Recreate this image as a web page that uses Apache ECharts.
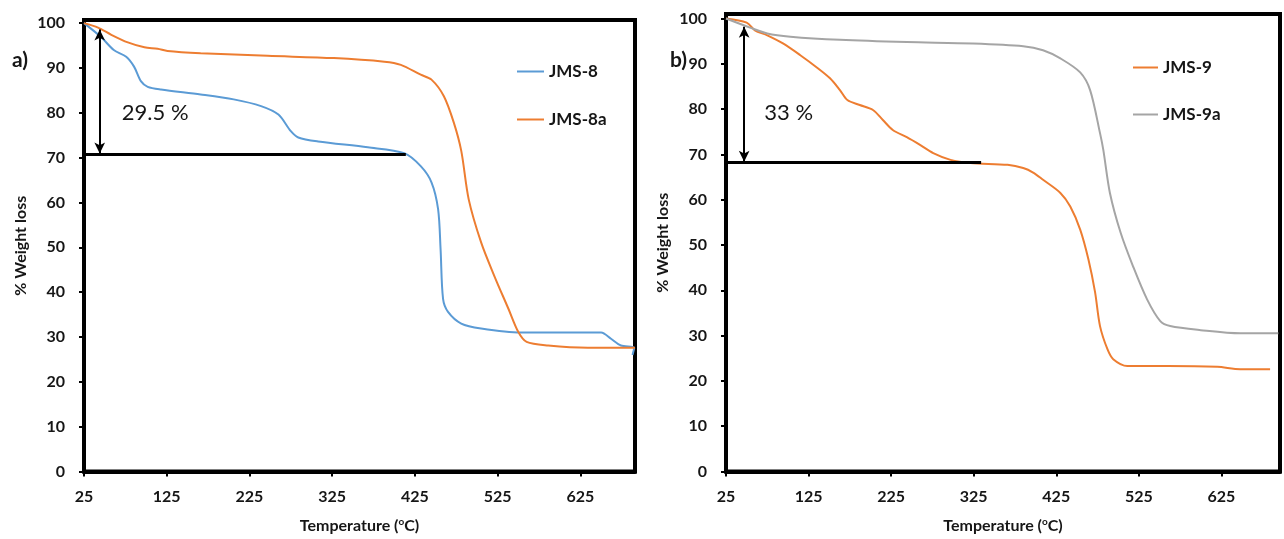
<!DOCTYPE html>
<html><head><meta charset="utf-8">
<script src="https://cdn.jsdelivr.net/npm/echarts@6/dist/echarts.min.js"></script>
<style>html,body{margin:0;padding:0;background:#fff}#c{width:1284px;height:539px}</style>
</head><body><div id="c"></div>
<script>
const xTicks = [25,125,225,325,425,525,625];
const yTicks = [0,10,20,30,40,50,60,70,80,90,100];

const jms8 = [[25,100],[45.6,96.9],[61,94],[76,92.5],[85.5,90.3],[94,87],[102,85.8],[118,85.2],[166,84.1],[206,83],[239,81.5],[260,79.6],[275,75.9],[284,74.5],[308,73.6],[368,72.3],[412,71],[432,68.1],[445,64.5],[453,58.5],[456,49.6],[459,38.5],[465,35.6],[481,33],[505,31.9],[553,31],[626,31],[650,31],[662,29.6],[674,28.1],[690,27.6],[688,26]];
const jms8a = [[25,100],[42,99],[58,97.4],[78,95.7],[98,94.6],[114,94.3],[126,93.8],[166,93.3],[247,92.7],[327,92.2],[388,91.4],[408,90.7],[432,88.5],[445,87.4],[460,83.7],[472,77.8],[481,71.5],[490,60.7],[505,51.1],[521,43.6],[538,36.3],[550,31.1],[560,28.9],[586,28.1],[634,27.6],[691,27.6]];
const jms9 = [[25,100],[50,99.1],[60,97.4],[75,96.3],[94,94.5],[115,91.9],[135,89.2],[151,86.8],[163,84.2],[172,82],[187,80.9],[203,79.8],[215,77.6],[227,75.4],[244,73.8],[260,72.1],[276,70.3],[297,68.8],[321,68.1],[366,67.7],[385,67],[397,66],[409,64.4],[430,61.5],[442,58.5],[454,53.4],[464,46.8],[472,39.6],[478,32.1],[487,27],[494,24.8],[511,23.3],[560,23.3],[620,23.1],[648,22.6],[684,22.6]];
const jms9a = [[25,100],[54,98],[75,96.7],[103,96],[163,95.3],[244,94.8],[324,94.5],[385,93.9],[409,93],[430,91.2],[454,88.1],[466,84.2],[478,74.7],[482,71],[490,61.5],[503,52.7],[518,45.3],[535,38],[551,33.2],[563,32.1],[600,31.2],[648,30.5],[694,30.5]];

// annotation values
const lossA = {label:'29.5 %', x:44, top:98.6, bottom:70.9, level:70.7, lineEnd:414, textAt:[111,80]};
const lossB = {label:'33 %', x:47, top:98.2, bottom:68.4, level:68.2, lineEnd:334, textAt:[101,79.2]};

const FONT = 'Lato';
const INK = '#161616';
const tickLabel = {color:INK, fontFamily:FONT, fontWeight:'bold', fontSize:16};

function xAxis(gi, max){
  return {type:'value', gridIndex:gi, min:25, max:max,
    name:'{t|Temperature (}{s|o}{t|C)}', nameLocation:'middle', nameGap:45,
    nameTextStyle:{color:INK, fontFamily:FONT, fontWeight:'bold', fontSize:16,
      rich:{t:{fontSize:16, fontFamily:FONT, fontWeight:'bold', color:INK},
            s:{fontSize:10, fontFamily:FONT, fontWeight:'bold', color:INK, padding:[0,0,9,0]}}},
    axisLine:{show:true, onZero:false, lineStyle:{color:'#000', width:4}},
    axisTick:{show:true, inside:false, length:5, lineStyle:{color:'#000', width:2}, customValues:xTicks},
    axisLabel:{...tickLabel, margin:17, customValues:xTicks},
    splitLine:{show:false}};
}
function yAxis(gi, max){
  return {type:'value', gridIndex:gi, min:0, max:max,
    name:'% Weight loss', nameLocation:'middle', nameGap:55,
    nameTextStyle:{color:INK, fontFamily:FONT, fontWeight:'bold', fontSize:16},
    axisLine:{show:true, lineStyle:{color:'#000', width:4}},
    axisTick:{show:true, length:5, lineStyle:{color:'#000', width:2}, customValues:yTicks},
    axisLabel:{...tickLabel, margin:19, customValues:yTicks},
    splitLine:{show:false}};
}
function dataLine(name, data, color, gi){
  return {name:name, type:'line', xAxisIndex:gi, yAxisIndex:gi, data:data, symbol:'none', showSymbol:false,
    smooth:0.3, lineStyle:{color:color, width:2}, itemStyle:{color:color}, z:3};
}
function annot(a, gi){
  return {name:'annot'+gi, type:'line', xAxisIndex:gi, yAxisIndex:gi, symbol:'none', silent:true,
    data:[[25,a.level],[a.lineEnd,a.level]], lineStyle:{color:'#000', width:3}, z:4,
    markLine:{silent:true, symbol:['arrow','arrow'], symbolSize:[8,11],
      lineStyle:{color:'#000', width:2, type:'solid'}, label:{show:false},
      data:[[{coord:[a.x,a.top]},{coord:[a.x,a.bottom]}]]},
    markPoint:{silent:true, symbol:'rect', symbolSize:[1,1], itemStyle:{color:'rgba(0,0,0,0)'},
      label:{show:true, position:'inside', formatter:a.label, color:INK, fontFamily:FONT, fontSize:22},
      data:[{coord:a.textAt}]}};
}
const legendText = {fontFamily:FONT, fontWeight:'bold', fontSize:17, color:INK};

const chart = echarts.init(document.getElementById('c'), null, {renderer:'canvas'});
chart.setOption({
  animation:false,
  backgroundColor:'#fff',
  title:[
    {text:'a)', left:7, top:45, textStyle:{fontFamily:FONT, fontWeight:'bold', fontSize:21, color:INK}},
    {text:'b)', left:665, top:45, textStyle:{fontFamily:FONT, fontWeight:'bold', fontSize:21, color:INK}}
  ],
  grid:[
    {left:84, top:20, width:551, height:453, show:true, borderColor:'#000', borderWidth:4, containLabel:false},
    {left:726, top:14, width:554, height:459, show:true, borderColor:'#000', borderWidth:4, containLabel:false}
  ],
  xAxis:[xAxis(0,691), xAxis(1,696)],
  yAxis:[yAxis(0,100.7), yAxis(1,101)],
  legend:[
    {data:[{name:'JMS-8', icon:'rect'},{name:'JMS-8a', icon:'rect'}], orient:'vertical', left:512, top:58,
     itemGap:31, itemWidth:27, itemHeight:2, textStyle:legendText, selectedMode:false},
    {data:[{name:'JMS-9', icon:'rect'},{name:'JMS-9a', icon:'rect'}], orient:'vertical', left:1128, top:54,
     itemGap:30, itemWidth:25, itemHeight:2, textStyle:legendText, selectedMode:false}
  ],
  series:[
    dataLine('JMS-8', jms8, '#5B9BD5', 0),
    dataLine('JMS-8a', jms8a, '#ED7D31', 0),
    dataLine('JMS-9', jms9, '#ED7D31', 1),
    dataLine('JMS-9a', jms9a, '#A5A5A5', 1),
    annot(lossA, 0),
    annot(lossB, 1)
  ]
});
</script></body></html>
